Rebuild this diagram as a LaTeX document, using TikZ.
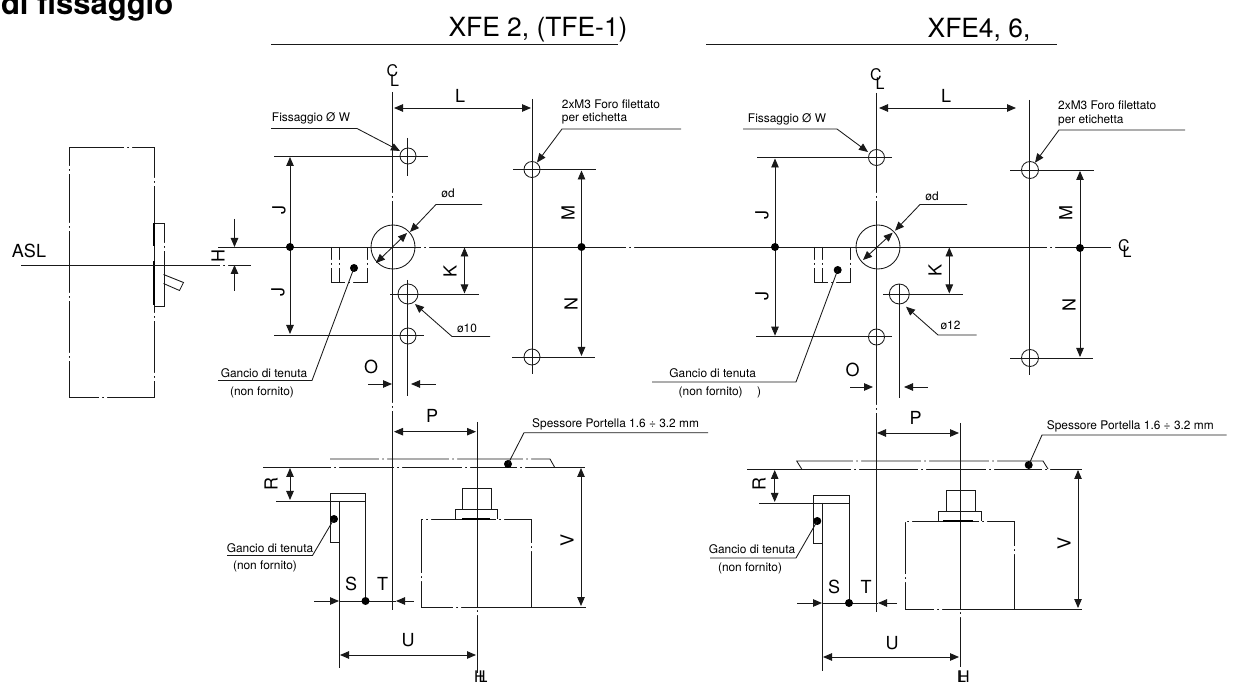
\documentclass[tikz,border=0pt]{standalone}
\usepackage{fontspec}
\setmainfont{TeX Gyre Heros}
\usetikzlibrary{arrows.meta}
\newcommand\gh[2]{\fill[white] ({#1-4},{#2-1.2}) rectangle ({#1-1},{#2+1.2}) ({#1+1},{#2-1.2}) rectangle ({#1+4},{#2+1.2});}
\newcommand\gv[2]{\fill[white] ({#1-1.2},{#2-4}) rectangle ({#1-1},{#2+1.2}) ;}
\renewcommand\gv[2]{\fill[white] ({#1-1.2},{#2-4}) rectangle ({#1+1.2},{#2-1}) ({#1-1.2},{#2+1}) rectangle ({#1+1.2},{#2+4});}
\tikzset{
  ln/.style={line width=0.85pt,draw=black!90},
  thk/.style={line width=1.8pt,draw=black},
  dimboth/.style={ln,{Triangle[length=9pt,width=7.5pt]}-{Triangle[length=9pt,width=7.5pt]}},
  arr/.style={ln,-{Triangle[length=9pt,width=7.5pt]}},
  blob/.style={fill=black,radius=4},
  big/.style={inner sep=0,font=\fontsize{18}{21}\selectfont},
  bigr/.style={big,rotate=90},
  cls/.style={inner sep=0,font=\fontsize{16}{18}\selectfont},
  small/.style={inner sep=0,font=\fontsize{11.9}{14}\selectfont},
  ttl/.style={inner sep=0,font=\fontsize{26.4}{30}\selectfont},
}
\begin{document}
\begin{tikzpicture}[x=1pt,y=-1pt]
\useasboundingbox (0,0) rectangle (1235,684);
\fill[white] (0,0) rectangle (1235,684);
% heading
\node[inner sep=0,anchor=base east,font=\bfseries\fontsize{31}{36}\selectfont] (head) at (173.5,15) {di fissaggio};
\node[ttl] (t1) at (538,30) {XFE 2, (TFE-1)};
\node[ttl] (t2) at (979,30) {XFE4, 6,};
\draw[ln] (271,44) -- (618,44);
\draw[ln] (706,44) -- (1057,44);
% switch side view
\draw[ln] (69.5,147) rectangle (154,397);
\gv{69.5}{170}\gv{69.5}{227}\gv{69.5}{297}\gv{69.5}{357}
\gv{154}{182}\gv{154}{317}\gv{154}{377}\gh{128}{147}\gh{103}{397}
\draw[ln] (154,223) -- (164,223) -- (164,306) -- (154,306);
\gv{164}{247}
\draw[thk] (154,223) -- (154,246) (154,261) -- (154,305);
\draw[ln] (163.5,274.5) -- (183.5,282.5) -- (179.5,290.5) -- (163.5,283.5);
\node[big] (asl) at (29,251) {ASL};
\draw[ln] (21,265) -- (251,265);
\gh{224}{265}
% centre lines
\draw[ln] (218,247) -- (1110.7,247);
\gh{425}{247}\gh{630}{247}\gh{1051}{247}
\draw[ln] (392.8,92) -- (392.8,610);
\gv{392.8}{197}\gv{392.8}{407}
\draw[ln] (876.5,93) -- (876.5,612);
\gv{876.5}{197}\gv{876.5}{409}
\draw[ln] (477,422) -- (477,673); \gv{477}{611}
\draw[ln] (960,423) -- (960,667); \gv{960}{613}
% --- LEFT TOP ---
\node[cls] (c1) at (392.5,71) {C}; \node[cls] (l1) at (394.5,81) {L};
\coordinate (hA) at (234.5,247); \coordinate (hB) at (234.5,265);
\coordinate (hC) at (234.5,219); \coordinate (hD) at (234.5,291);
\draw[arr] (hC) -- (hA); \draw[arr] (hD) -- (hB);
\node[bigr] (h1) at (218,256) {H};
\draw[ln] (274,156) -- (428,156); \draw[ln] (274,335) -- (424,335);
\draw[dimboth] (290,157) -- (290,334);
\fill[blob] (290,247) circle;
\node[bigr] (j1) at (279,210) {J}; \node[bigr] (j2) at (278,292) {J};
\draw[ln] (407.6,138) -- (407.6,176);
\draw[ln] (407.6,280) -- (407.6,396);
\draw[ln] (408,156) circle (8); \draw[ln] (408,336) circle (8); \draw[ln] (408,294) circle (10);
\draw[ln] (393,247) circle (22);
\node[small] (fx1) at (311,118) {Fissaggio Ø W};
\draw[arr] (271,128.5) -- (357,128.5) -- (400,151);
\node[small] (od1) at (448,193) {ød};
\draw[arr] (482,204.5) -- (436,204.5) -- (410,232);
\draw[dimboth] (407,233) -- (376,263);
\draw[ln] (390,294) -- (479,294);
\draw[dimboth] (464.5,247.5) -- (464.5,293.5);
\node[bigr] (k1) at (450,271) {K};
\node[small] (d10) at (467,328) {ø10};
\draw[arr] (490,336.5) -- (452,336.5) -- (415,304);
\draw[arr] (368,384) -- (392,384); \draw[arr] (435.5,384) -- (411,384);
\node[big] (o1) at (371,367) {O};
% hook hole left
\draw[ln] (339,247) -- (339,282) (331,247) -- (331,282) (331,282) -- (367,282) -- (367,247);
\gv{331}{264}\gv{339}{264}\gh{349}{282}\gv{367}{264}
\fill[blob] (354,268) circle;
\draw[ln] (354,268) -- (312,380.5) -- (218,380.5);
\node[small] (g1) at (264,373) {Gancio di tenuta};
\node[small] (n1) at (262,392) {(non fornito)};
% L / M / N left
\draw[dimboth] (394,108) -- (531,108);
\node[big] (lL) at (460,96) {L};
\draw[ln] (532,99) -- (532,374);
\draw[ln] (532,169.5) circle (8); \draw[ln] (532,357) circle (8);
\draw[ln] (513,169.5) -- (596,169.5); \draw[ln] (512,357) -- (595,357);
\draw[dimboth] (581.5,170.5) -- (581.5,356);
\fill[blob] (581.5,247) circle;
\node[bigr] (m1) at (568,213) {M}; \node[bigr] (n2) at (571,304) {N};
\node[small,anchor=west] (tx1) at (561.7,104) {2xM3 Foro filettato};
\node[small,anchor=west] (tx2) at (561.7,118.5) {per etichetta};
\draw[arr] (681,129) -- (562,129) -- (537,162.5);
% --- RIGHT TOP ---
\node[cls] (c2) at (876,75) {C}; \node[cls] (l2) at (880,84) {L};
\draw[ln] (757,157.5) -- (892,157.5); \draw[ln] (756,336.7) -- (892,336.7);
\draw[dimboth] (775,158.5) -- (775,335.7);
\fill[blob] (775,247) circle;
\node[bigr] (j3) at (762,215) {J}; \node[bigr] (j4) at (762,296) {J};
\draw[ln] (876.5,157.5) circle (8); \draw[ln] (876.5,337) circle (8);
\draw[ln] (899.3,284) -- (899.3,398);
\draw[ln] (899.3,294) circle (10);
\draw[ln] (878,247) circle (22);
\node[small] (fx2) at (787,119) {Fissaggio Ø W};
\draw[arr] (743,129) -- (837,129) -- (868,152);
\node[small] (od2) at (932,196.5) {ød};
\draw[arr] (967,204.5) -- (920,204.5) -- (895,230.7);
\draw[dimboth] (892.7,232.7) -- (863,260);
\draw[ln] (883,294) -- (962.7,294);
\draw[dimboth] (949.3,247.5) -- (949.3,293.5);
\node[bigr] (k2) at (935,270) {K};
\node[small] (d12) at (950.5,325) {ø12};
\draw[arr] (976.7,335) -- (938,335) -- (906,306.7);
\draw[arr] (850,387) -- (873,387); \draw[arr] (927.7,387) -- (904,387);
\node[big] (o2) at (852.7,370) {O};
\draw[ln] (822,247) -- (822,282) (814,247) -- (814,282) (814,282) -- (850,282) -- (850,247);
\gv{814}{264}\gv{822}{264}\gh{832}{282}\gv{850}{264}
\fill[blob] (837.7,270) circle;
\draw[ln] (837.7,270) -- (796,382) -- (652,382);
\node[small] (g2) at (712.7,372.7) {Gancio di tenuta};
\node[small] (n3) at (710.7,392.7) {(non fornito)};
\node[small] (pr) at (759,392.7) {)};
\draw[arr] (905,108) -- (879,108);
\draw[arr] (905,108) -- (1016,108);
\node[big] (lR) at (946,96) {L};
\draw[ln] (1029.5,100) -- (1029.5,375);
\draw[ln] (1030,170) circle (8.5); \draw[ln] (1030,358) circle (8.5);
\draw[ln] (1010,170) -- (1093.6,170); \draw[ln] (1010,358) -- (1093,358);
\draw[dimboth] (1080,171) -- (1080,357);
\fill[blob] (1080,248) circle;
\node[bigr] (m2) at (1065.7,213) {M}; \node[bigr] (n4) at (1069,305) {N};
\node[small,anchor=west] (tx3) at (1058,105.5) {2xM3 Foro filettato};
\node[small,anchor=west] (tx4) at (1058,120) {per etichetta};
\draw[arr] (1185,130) -- (1059,130) -- (1035,162.7);
\node[cls] (c3) at (1124,246) {C}; \node[cls] (l3) at (1127,252) {L};
% --- LEFT BOTTOM ---
\draw[ln] (263,467) -- (585,467);
\gh{335}{467}\gh{398}{467}\gh{466}{467}\gh{521}{467}
\draw[ln] (330,459) -- (550,459) -- (554.5,467);
\gh{383}{459}\gh{453}{459}\gh{527}{459}
\draw[dimboth] (394,431.7) -- (476,431.7);
\node[big] (p1) at (432,416) {P};
\fill[blob] (508,464) circle;
\draw[ln] (508,464) -- (524,432.7) -- (708,432.7);
\node[small,anchor=west] (sp1) at (532,424) {Spessore Portella 1.6 ÷ 3.2 mm};
\draw[dimboth] (290,468) -- (290,500);
\node[bigr] (r1) at (271,484) {R};
\draw[ln] (276,501) -- (365.5,501);
\draw[ln] (339,501) -- (339,668);
\draw[ln] (330.5,542) rectangle (339,501);
\draw[ln] (330.5,501) -- (330.5,493) -- (365.5,493) -- (365.5,601);
\fill[blob] (334,519) circle;
\draw[ln] (334,519) -- (312.5,555.5) -- (227,555.5);
\node[small] (g3) at (270,548) {Gancio di tenuta};
\node[small] (n5) at (265,566) {(non fornito)};
\draw[arr] (314,601) -- (339,601); \draw[arr] (414,601) -- (396,601);
\draw[ln] (339,601) -- (396,601);
\fill[blob] (365.5,601) circle;
\node[big] (s1) at (351,584) {S}; \node[big] (t1b) at (382.5,584) {T};
\draw[dimboth] (340,655) -- (476,655);
\node[big] (u1) at (408,640) {U};
\node[cls] (h2) at (480,677) {H}; \node[cls] (l4) at (483,677) {L};
\draw[ln] (421.7,519) -- (531.7,519) (421.7,519) -- (421.7,607) -- (585.5,607) (531.7,519) -- (531.7,607);
\gh{427}{519}\gh{500}{519}\gv{421.7}{577}\gv{531.7}{547}\gh{457}{607}
\draw[ln] (462.7,509) -- (462.7,488) -- (491.7,488) -- (491.7,509);
\draw[ln] (455,519) -- (455,509) -- (497.7,509) -- (497.7,519);
\draw[line width=1.4pt] (462,519) -- (490,519);
\draw[dimboth] (581,468) -- (581,606);
\node[bigr] (v1) at (567,540) {V};
% --- RIGHT BOTTOM ---
\draw[ln] (747,469) -- (1081.7,469);
\gh{855}{469}\gh{922}{469}\gh{990}{469}\gh{1046}{469}
\draw[ln] (801.7,469) -- (796.7,461) -- (1043,461) -- (1048,469);
\gh{857}{461}\gh{925}{461}\gh{993}{461}
\draw[dimboth] (877,433) -- (959,433);
\node[big] (p2) at (915.5,418) {P};
\fill[blob] (1028.7,465) circle;
\draw[ln] (1028.7,465) -- (1042,435) -- (1226.7,435);
\node[small,anchor=west] (sp2) at (1046.7,426.7) {Spessore Portella 1.6 ÷ 3.2 mm};
\draw[dimboth] (774.7,470) -- (774.7,502);
\node[bigr] (r2) at (759,484) {R};
\draw[ln] (759,503) -- (849,503);
\draw[ln] (822,503) -- (822,670.7);
\draw[ln] (813.3,543.7) rectangle (822,503);
\draw[ln] (813.3,503) -- (813.3,495.7) -- (849,495.7) -- (849,603);
\fill[blob] (817.3,521) circle;
\draw[ln] (817.3,521) -- (796,558) -- (710,558);
\node[small] (g4) at (752,549) {Gancio di tenuta};
\node[small] (n6) at (750,568) {(non fornito)};
\draw[arr] (797,603) -- (822,603); \draw[arr] (897,603) -- (878,603);
\draw[ln] (822,603) -- (878,603);
\fill[blob] (849,603) circle;
\node[big] (s2) at (834,587) {S}; \node[big] (t2b) at (866,587) {T};
\draw[dimboth] (823,657) -- (959,657);
\node[big] (u2) at (892,643) {U};
\node[cls] (h3) at (964,677) {H}; \node[cls] (l5) at (961.5,677) {L};
\draw[ln] (905,521) -- (1014,521) (905,521) -- (905,609) -- (1082,609) (1014,521) -- (1014,609);
\gh{908}{521}\gh{983}{521}\gv{905}{578}\gv{1014}{550}\gh{938}{609}
\draw[ln] (946,511.7) -- (946,490) -- (975,490) -- (975,511.7);
\draw[ln] (938,521) -- (938,511.7) -- (981,511.7) -- (981,521);
\draw[line width=1.4pt] (943,521) -- (973,521);
\draw[dimboth] (1078,470) -- (1078,608);
\node[bigr] (v2) at (1064,543) {V};
\end{tikzpicture}
\end{document}
